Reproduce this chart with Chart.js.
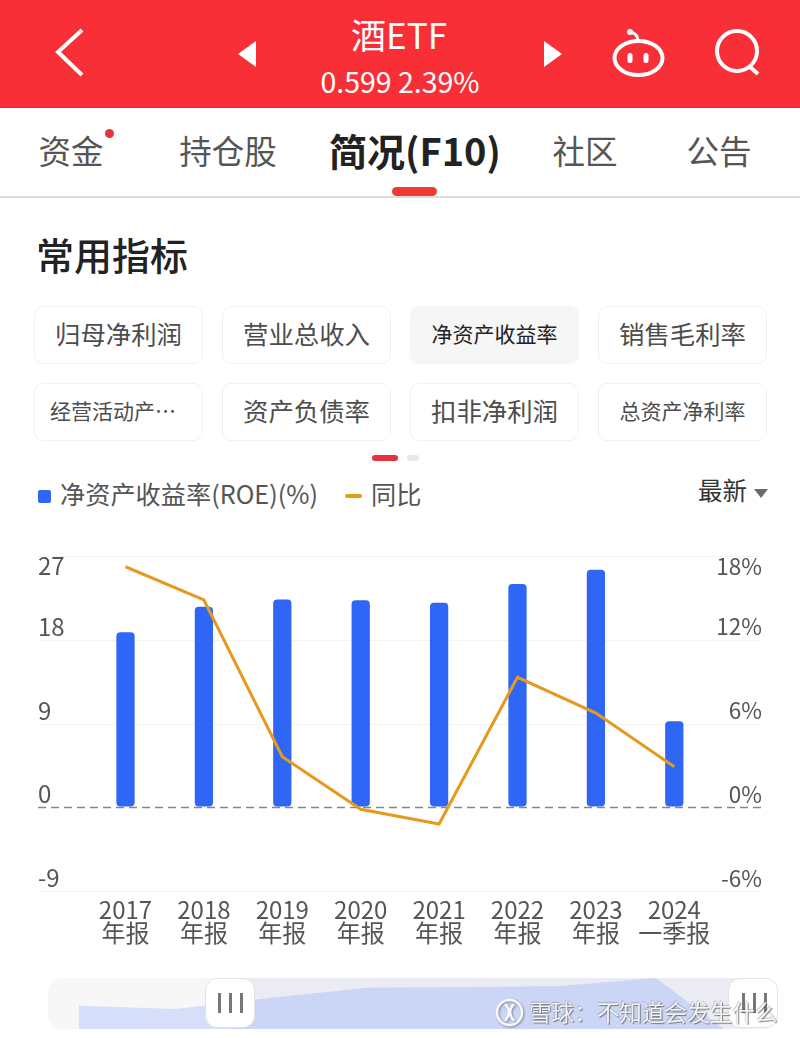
<!DOCTYPE html>
<html lang="zh">
<head>
<meta charset="utf-8">
<title>酒ETF 净资产收益率</title>
<script src="https://cdn.jsdelivr.net/npm/chart.js@4"></script>
<style>
  html, body { margin: 0; padding: 0; background: #fff; }
  body { position: relative; width: 800px; height: 1038px; overflow: hidden; font-family: "Noto Sans CJK SC", "Noto Sans", sans-serif; color: #555; }
  .abs { position: absolute; white-space: nowrap; line-height: 1; }
  .mid { transform: translate(-50%, -50%); }
  .left { transform: translateY(-50%); }
  #header { position: absolute; left: 0; top: 0; width: 800px; height: 107px; background: #f92f38; border-bottom: 1px solid #b5474a; }
  #tabline { position: absolute; left: 0; top: 196px; width: 800px; height: 2px; background: #dedede; }
  #tabmark { position: absolute; left: 392px; top: 187px; width: 45px; height: 9px; border-radius: 5px; background: #ee3b36; }
  .chip { position: absolute; box-sizing: border-box; width: 169px; height: 58px; padding-bottom: 4px; border: 1px solid #f1f1f1; border-radius: 9px; display: flex; align-items: center; justify-content: center; color: #4d4d4d; white-space: nowrap; }
  .chip.on { background: #f6f6f6; border-color: #f6f6f6; color: #222; }
  #chart, #thumb { position: absolute; left: 0; }
  #chart { top: 530px; }
  #track { position: absolute; left: 48px; top: 978px; width: 730px; height: 51px; background: #f7f7f7; border-radius: 14px; }
  #thumb { left: 48px; top: 978px; }
  #window { position: absolute; left: 230px; top: 978px; width: 523px; height: 51px; background: rgba(70, 80, 200, 0.07); }
  .handle { position: absolute; top: 978px; box-sizing: border-box; width: 50px; height: 50px; background: #fff; border: 1px solid #e2e2e2; border-radius: 12px; }
  .handle i { position: absolute; top: 14px; width: 2.5px; height: 20px; background: #777; }
  #mark { position: absolute; left: 495px; top: 998px; filter: drop-shadow(1px 1px 1px rgba(70, 70, 70, 0.6)); }
  #marktext { left: 529px; top: 1012px; font-size: 22.6px; color: rgba(255, 255, 255, 0.88); text-shadow: 1px 1px 1px rgba(80, 80, 80, 0.7), -0.5px -0.5px 1px rgba(80, 80, 80, 0.35); }
</style>
</head>
<body>
<div id="header"></div>
<svg class="abs" style="left:0;top:0" width="800" height="107" fill="none" stroke="#fff" stroke-width="4">
  <path d="M82 30 L58 52 L82 75"/>
  <path d="M256 41 L238 54 L256 67 Z" fill="#fff" stroke="none"/>
  <path d="M544 41 L562 54 L544 67 Z" fill="#fff" stroke="none"/>
  <ellipse cx="638.5" cy="58" rx="24" ry="17"/>
  <path d="M638 40 Q637 33 630 32" stroke-width="3"/>
  <circle cx="630" cy="32" r="3" fill="#fff" stroke="none"/>
  <rect x="627.5" y="53" width="5" height="10" rx="2.5" fill="#fff" stroke="none"/>
  <rect x="643.5" y="53" width="5" height="10" rx="2.5" fill="#fff" stroke="none"/>
  <circle cx="737" cy="51" r="20"/>
  <path d="M750 67 L758 74"/>
</svg>
<div class="abs mid" style="left:399px;top:33px;font-size:35px;color:#fff">酒ETF</div>
<div class="abs mid" style="left:400px;top:81px;font-size:28.5px;color:#fff">0.599 2.39%</div>

<div id="tabs"></div>
<div class="abs" style="left:105px;top:129px;width:9px;height:9px;border-radius:50%;background:#e5343a"></div>
<div id="tabline"></div>
<div id="tabmark"></div>
<div class="abs left" style="left:36px;top:254px;font-size:38px;color:#222;font-weight:500">常用指标</div>

<div id="chips"></div>
<div class="abs" style="left:372px;top:455px;width:26px;height:6px;border-radius:3px;background:#e6323c"></div>
<div class="abs" style="left:407px;top:455px;width:12px;height:6px;border-radius:3px;background:#e8e8e8"></div>

<div class="abs" style="left:38px;top:490px;width:13px;height:13px;border-radius:2px;background:#2f66f6"></div>
<div class="abs left" id="legendBar" style="left:60px;top:494px;font-size:25.2px"></div>
<div class="abs" style="left:345px;top:494px;width:17px;height:4px;border-radius:2px;background:#e59a1f"></div>
<div class="abs left" id="legendLine" style="left:371px;top:494px;font-size:25.2px"></div>
<div class="abs left" style="left:698px;top:490px;font-size:24.5px;color:#333">最新</div>
<svg class="abs" style="left:754px;top:489px" width="14" height="9"><path d="M0 0 H14 L7 9 Z" fill="#6b6b6b"/></svg>

<canvas id="chart" width="800" height="430"></canvas>

<div id="track"></div>
<canvas id="thumb" width="730" height="51"></canvas>
<div id="window"></div>
<div class="handle" style="left:205px"><i style="left:12px"></i><i style="left:23px"></i><i style="left:34px"></i></div>
<div class="handle" style="left:728px"><i style="left:13px"></i><i style="left:24px"></i><i style="left:35px"></i></div>
<svg id="mark" width="29" height="29" fill="none" stroke="rgba(255,255,255,0.92)" stroke-width="2.5">
  <circle cx="14.5" cy="14.5" r="12.5"/>
  <path d="M10 6 Q18 14 10 23 M19 6 Q11 14 19 23" stroke-width="2.5"/>
</svg>
<div class="abs left" id="marktext">雪球：不知道会发生什么</div>

<script>
// chart data
const periods = [["2017", "年报"], ["2018", "年报"], ["2019", "年报"], ["2020", "年报"], ["2021", "年报"], ["2022", "年报"], ["2023", "年报"], ["2024", "一季报"]];
const roe = [18.76, 21.5, 22.3, 22.2, 21.95, 23.96, 25.5, 9.2];
const yoy = [17.23, 14.85, 3.62, -0.15, -1.2, 9.31, 6.75, 2.9];
const thumbValues = [19.2, 18.5, 21, 23.3, 23.4, 23.7, 25.5, 9.2];
const barName = "净资产收益率(ROE)(%)";
const lineName = "同比";

const tabNames = ["资金", "持仓股", "简况(F10)", "社区", "公告"];
const tabCenters = [71, 228, 415, 585, 719];
const chipNames = ["归母净利润", "营业总收入", "净资产收益率", "销售毛利率", "经营活动产…", "资产负债率", "扣非净利润", "总资产净利率"];
const chipSmall = [2, 4, 7];
const chipLefts = [34, 222, 410, 598];
const chipTops = [306, 383];

// page furniture around the chart
tabNames.forEach((name, i) => {
  const el = document.createElement("div");
  el.className = "abs mid";
  el.textContent = name;
  el.style.left = tabCenters[i] + "px";
  el.style.top = "150px";
  el.style.fontSize = i === 2 ? "38px" : "32.5px";
  el.style.fontWeight = i === 2 ? "700" : "400";
  el.style.color = i === 2 ? "#222" : "#555";
  document.getElementById("tabs").appendChild(el);
});
chipNames.forEach((name, i) => {
  const el = document.createElement("div");
  el.className = "chip" + (i === 2 ? " on" : "");
  el.textContent = name;
  el.style.left = chipLefts[i % 4] + "px";
  el.style.top = chipTops[Math.floor(i / 4)] + "px";
  el.style.fontSize = chipSmall.includes(i) ? "21px" : "25.4px";
  if (i === 4) el.style.paddingRight = "11px";
  document.getElementById("chips").appendChild(el);
});
document.getElementById("legendBar").textContent = barName;
document.getElementById("legendLine").textContent = lineName;

const labelFont = '"Noto Sans CJK SC", "Noto Sans", sans-serif';

// Grid lines run past the plot area, out under the axis numbers
const wideGrid = {
  id: "wideGrid",
  beforeDatasetsDraw(chart) {
    const { ctx, scales } = chart;
    ctx.save();
    scales.y.ticks.forEach((tick) => {
      const y = Math.round(scales.y.getPixelForValue(tick.value)) + 0.5;
      ctx.beginPath();
      ctx.moveTo(38, y);
      ctx.lineTo(762, y);
      if (tick.value === 0) {
        ctx.strokeStyle = "#868686";
        ctx.lineWidth = 1.5;
        ctx.setLineDash([8, 5]);
      } else {
        ctx.strokeStyle = "#f3f3f3";
        ctx.lineWidth = 1;
        ctx.setLineDash([]);
      }
      ctx.stroke();
    });
    ctx.restore();
  },
};

// Axis numbers sit on the grid lines rather than beside them, the top one hangs below its line
const sideLabels = {
  id: "sideLabels",
  afterDraw(chart) {
    const { ctx, scales } = chart;
    ctx.save();
    ctx.fillStyle = "#555";
    ctx.textBaseline = "middle";
    [["y", "left", 38, "", 24], ["y1", "right", 762, "%", 22.5]].forEach(([id, align, x, suffix, size]) => {
      ctx.font = size + "px " + labelFont;
      ctx.textAlign = align;
      scales[id].ticks.forEach((tick) => {
        const y = scales[id].getPixelForValue(tick.value);
        const offset = tick.value === scales[id].max ? 10 : -13;
        ctx.fillText(tick.value + suffix, x, y + offset);
      });
    });
    ctx.restore();
  },
};

new Chart(document.getElementById("chart"), {
  data: {
    labels: periods,
    datasets: [
      {
        type: "line",
        label: lineName,
        data: yoy,
        yAxisID: "y1",
        order: 0,
        borderColor: "#e59a1f",
        borderWidth: 3,
        pointRadius: 0,
        tension: 0,
      },
      {
        type: "bar",
        label: barName,
        data: roe,
        yAxisID: "y",
        order: 1,
        base: 0.12,
        backgroundColor: "#2f66f6",
        barThickness: 17.6,
        borderRadius: 4,
        borderSkipped: false,
      },
    ],
  },
  options: {
    responsive: false,
    animation: false,
    layout: { padding: { left: 86.3, right: 86.5, top: 26, bottom: 0 } },
    plugins: { legend: { display: false }, tooltip: { enabled: false } },
    scales: {
      x: {
        offset: true,
        grid: { display: false },
        border: { display: false },
        ticks: {
          autoSkip: false,
          maxRotation: 0,
          padding: -1,
          color: "#555",
          font: { family: labelFont, size: 24, lineHeight: 0.96 },
        },
        afterFit(scale) { scale.height = 69; },
      },
      y: {
        position: "left",
        min: -9,
        max: 27,
        ticks: { stepSize: 9, display: false },
        grid: { display: false },
        border: { display: false },
        afterFit(scale) { scale.width = 0; },
      },
      y1: {
        position: "right",
        min: -6,
        max: 18,
        ticks: { stepSize: 6, display: false },
        grid: { display: false },
        border: { display: false },
        afterFit(scale) { scale.width = 0; },
      },
    },
  },
  plugins: [wideGrid, sideLabels],
});

// Small overview area inside the range slider
new Chart(document.getElementById("thumb"), {
  type: "line",
  data: {
    labels: periods.map((p) => p[0]),
    datasets: [
      {
        data: thumbValues,
        fill: "start",
        backgroundColor: "#d6dff9",
        borderWidth: 0,
        pointRadius: 0,
        tension: 0,
      },
    ],
  },
  options: {
    responsive: false,
    animation: false,
    layout: { padding: { left: 31, right: 26 } },
    plugins: { legend: { display: false }, tooltip: { enabled: false } },
    scales: {
      x: { display: false },
      y: { display: false, min: 13.95, max: 25.5 },
    },
  },
});
</script>
</body>
</html>
